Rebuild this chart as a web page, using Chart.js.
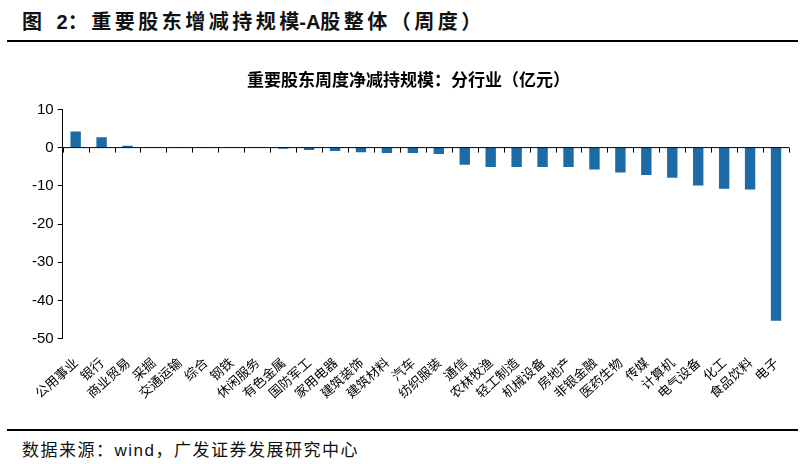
<!DOCTYPE html>
<html>
<head>
<meta charset="utf-8">
<script src="https://cdn.jsdelivr.net/npm/chart.js@4/dist/chart.umd.min.js"></script>
<style>
    body { margin: 0; background: #fff; width: 809px; height: 464px; overflow: hidden; position: relative; font-family: "Noto Sans CJK SC", sans-serif; }
    .fig-title { position: absolute; left: 22px; top: 6px; font-size: 20px; font-weight: bold; color: #111; font-family: "Liberation Sans", "Noto Sans CJK SC", sans-serif; letter-spacing: 3.5px; }
    .fig-title .tight { letter-spacing: 0; }
    .rule { position: absolute; left: 7px; width: 791px; height: 2px; background: #000; }
    .source { position: absolute; left: 22px; top: 436px; font-size: 17px; color: #111; font-family: "Liberation Sans", "Noto Sans CJK SC", sans-serif; letter-spacing: 1.5px; }
    #wrap { position: absolute; left: 0; top: 62px; width: 809px; height: 360px; }
</style>
</head>
<body>
<div class="fig-title">图<span class="tight">&nbsp;&nbsp;2</span>：重要股东增减持规<span class="tight">模-A</span>股整体（周度）</div>
<div class="rule" style="top:40px"></div>
<div id="wrap"><canvas id="chart"></canvas></div>
<div class="rule" style="top:429px"></div>
<div class="source">数据来源：wind，广发证券发展研究中心</div>

<script>
// Categories (industries)
const industries = ['公用事业', '银行', '商业贸易', '采掘', '交通运输', '综合', '钢铁', '休闲服务', '有色金属',
    '国防军工', '家用电器', '建筑装饰', '建筑材料', '汽车', '纺织服装', '通信', '农林牧渔', '轻工制造',
    '机械设备', '房地产', '非银金融', '医药生物', '传媒', '计算机', '电气设备', '化工', '食品饮料', '电子'];

// Net reduction scale (100 million yuan)
const netValues = [4.2, 2.7, 0.5, 0.05, 0.05, 0.05, 0.05, 0.05, -0.3,
    -0.6, -0.9, -1.2, -1.4, -1.4, -1.7, -4.5, -5.1, -5.1,
    -5.1, -5.1, -5.7, -6.5, -7.2, -7.9, -9.9, -10.8, -11.0, -45.3];

const yTicks = [10, 0, -10, -20, -30, -40, -50];

// Draw zero axis line with category tick marks
const zeroAxis = {
    id: 'zeroAxis',
    afterDatasetsDraw(chart) {
        const ctx = chart.ctx;
        const x = chart.scales.x;
        const y0 = chart.scales.y.getPixelForValue(0);
        const half = (x.getPixelForValue(1) - x.getPixelForValue(0)) / 2;
        ctx.save();
        ctx.strokeStyle = '#000';
        ctx.lineWidth = 1;
        ctx.beginPath();
        ctx.moveTo(chart.chartArea.left, y0);
        ctx.lineTo(chart.chartArea.right, y0);
        for (let i = 0; i <= industries.length; i++) {
            const px = Math.round(x.getPixelForValue(i) - half) + 0.5;
            ctx.moveTo(px, y0);
            ctx.lineTo(px, y0 + 5);
        }
        ctx.stroke();
        ctx.restore();
    }
};

new Chart(document.getElementById('chart'), {
    type: 'bar',
    data: {
        labels: industries,
        datasets: [{
            data: netValues,
            backgroundColor: '#1c6aa6',
            barPercentage: 0.4,
            categoryPercentage: 1.0
        }]
    },
    options: {
        responsive: true,
        maintainAspectRatio: false,
        animation: false,
        layout: { padding: { left: 28, right: 20, top: 0, bottom: 13 } },
        plugins: {
            legend: { display: false },
            tooltip: { enabled: false },
            title: {
                display: true,
                text: '重要股东周度净减持规模：分行业（亿元）',
                color: '#000',
                font: { family: 'Noto Sans CJK SC', size: 17, weight: 'bold' },
                padding: { top: 7, bottom: 20 }
            }
        },
        scales: {
            x: {
                grid: { display: false },
                border: { display: false },
                ticks: {
                    color: '#000',
                    font: { family: 'Noto Sans CJK SC', size: 13 },
                    minRotation: 42,
                    maxRotation: 42,
                    autoSkip: false,
                    padding: 8
                }
            },
            y: {
                min: -50,
                max: 10,
                afterBuildTicks(scale) {
                    scale.ticks = yTicks.map(v => ({ value: v }));
                },
                grid: { drawOnChartArea: false, tickLength: 5, color: '#000' },
                border: { display: true, color: '#000', width: 1 },
                ticks: {
                    color: '#000',
                    font: { family: 'Liberation Sans', size: 15 },
                    padding: 4
                }
            }
        }
    },
    plugins: [zeroAxis]
});
</script>
</body>
</html>
